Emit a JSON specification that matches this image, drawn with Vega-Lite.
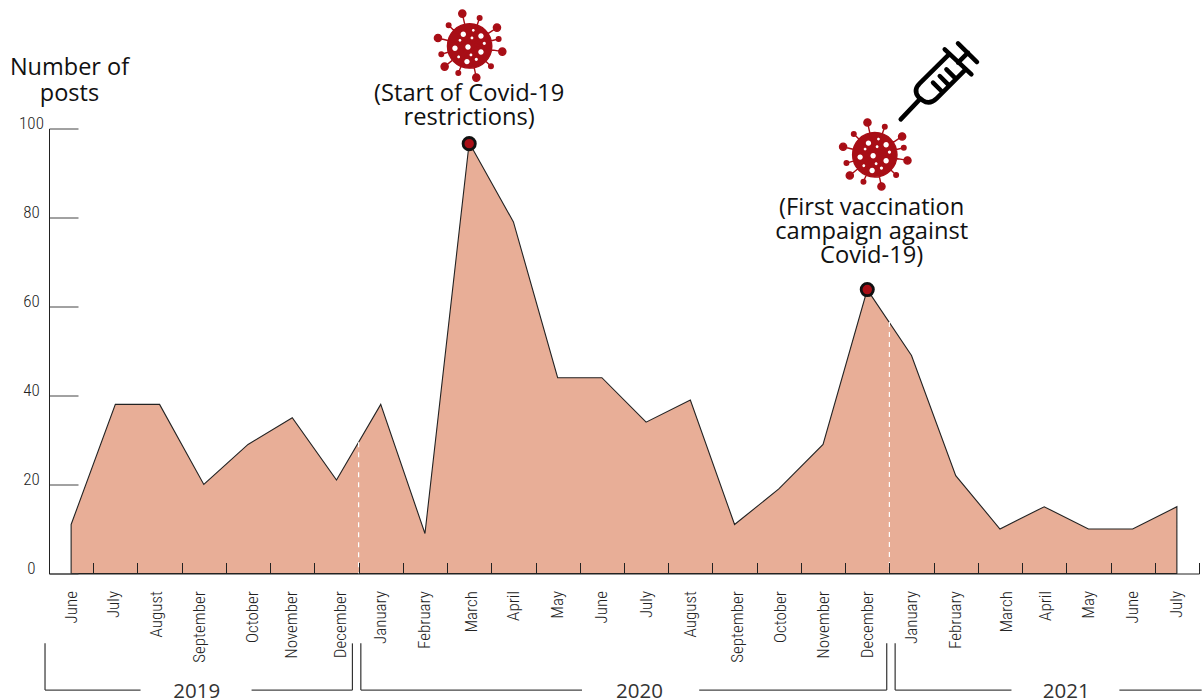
{
"$schema":"https://vega.github.io/schema/vega-lite/v6.json",
"width":1150,"height":445,
"autosize":{"type":"none"},
"padding":{"left":49,"top":128.5,"right":3,"bottom":126.5},
"background":"white",
"config":{"view":{"stroke":null}},
"datasets":{
"posts":[
{"month":"2019-06","name":"June","posts":11},{"month":"2019-07","name":"July","posts":38},{"month":"2019-08","name":"August","posts":38},{"month":"2019-09","name":"September","posts":20},{"month":"2019-10","name":"October","posts":29},{"month":"2019-11","name":"November","posts":35},{"month":"2019-12","name":"December","posts":21},
{"month":"2020-01","name":"January","posts":38},{"month":"2020-02","name":"February","posts":9},{"month":"2020-03","name":"March","posts":96.8},{"month":"2020-04","name":"April","posts":79},{"month":"2020-05","name":"May","posts":44},{"month":"2020-06","name":"June","posts":44},{"month":"2020-07","name":"July","posts":34},{"month":"2020-08","name":"August","posts":39},{"month":"2020-09","name":"September","posts":11},{"month":"2020-10","name":"October","posts":19},{"month":"2020-11","name":"November","posts":29},{"month":"2020-12","name":"December","posts":63.8},
{"month":"2021-01","name":"January","posts":49},{"month":"2021-02","name":"February","posts":22},{"month":"2021-03","name":"March","posts":10},{"month":"2021-04","name":"April","posts":15},{"month":"2021-05","name":"May","posts":10},{"month":"2021-06","name":"June","posts":10},{"month":"2021-07","name":"July","posts":15}
],
"peaks":[{"month":"2020-03","posts":96.6},{"month":"2020-12","posts":63.8}],
"notes":[{"i":9,"v":107.8,"text":"(Start of Covid-19\nrestrictions)"},{"i":18.1,"v":82.05,"text":"(First vaccination\ncampaign against\nCovid-19)"}],
"viruses":[{"i":9.01,"v":118.55},{"i":18.17,"v":94.1}],
"syringe":[{"i":19.57,"v":110.6}],
"years":[{"i":2.84,"v":-26.65,"year":"2019"},{"i":12.85,"v":-26.65,"year":"2020"},{"i":22.5,"v":-26.65,"year":"2021"}],
"dividers":[{"i":6.5,"top":29.5},{"i":18.5,"top":56.5}],
"bracketH":[{"a":-0.59,"b":1.57},{"a":4.08,"b":6.36},{"a":6.55,"b":11.55},{"a":14.2,"b":18.44},{"a":18.63,"b":21.26},{"a":23.7,"b":25.56}],
"bracketV":[{"i":-0.59},{"i":6.36},{"i":6.55},{"i":18.44},{"i":18.63}]
},
"layer":[
{
"layer":[
{"data":{"name":"posts"},
"mark":{"type":"area","fill":"#E8AE97","stroke":"#222222","strokeWidth":1.1,"opacity":1},
"encoding":{
"x":{"field":"month","type":"nominal","sort":null,"scale":{"type":"band","paddingInner":0,"paddingOuter":0},
"axis":{"title":null,"zindex":1,"tickBand":"extent","tickSize":-11,"tickColor":"#222222","domainColor":"#222222","grid":false,
"labelExpr":"split('June July August September October November December January February March April May June July August September October November December January February March April May June July',' ')[indexof(['2019-06','2019-07','2019-08','2019-09','2019-10','2019-11','2019-12','2020-01','2020-02','2020-03','2020-04','2020-05','2020-06','2020-07','2020-08','2020-09','2020-10','2020-11','2020-12','2021-01','2021-02','2021-03','2021-04','2021-05','2021-06','2021-07'],datum.value)]",
"labelAngle":-90,"labelAlign":"right","labelBaseline":"middle","labelPadding":28,"labelFont":"Roboto Condensed","labelFontSize":17,"labelFontWeight":300,"labelColor":"#222222","labelOverlap":false,"labelBound":false,
"labelOffset":{"condition":[{"test":"datum.value=='2019-07'","value":-2},{"test":"datum.value=='2019-08'","value":-3},{"test":"datum.value=='2019-09'","value":-4},{"test":"datum.value=='2019-10'","value":4},{"test":"datum.value=='2019-11'","value":-1},{"test":"datum.value=='2019-12'","value":4},{"test":"datum.value=='2020-03'","value":2},{"test":"datum.value=='2020-09'","value":3},{"test":"datum.value=='2020-10'","value":2},{"test":"datum.value=='2021-03'","value":7},{"test":"datum.value=='2021-04'","value":1}],"value":0}}},
"y":{"field":"posts","type":"quantitative","scale":{"domain":[0,100],"nice":false},
"axis":{"zindex":1,"title":["Number of","posts"],"titleAngle":0,"titleX":20,"titleY":-61,"titleAlign":"center","titleBaseline":"middle","titleFont":"Open Sans","titleFontSize":23.5,"titleFontWeight":"normal","titleColor":"#111111","titleLineHeight":26,
"values":[0,20,40,60,80,100],"tickSize":-29,"tickColor":"#444444","domainColor":"#222222","grid":false,"labelFont":"Roboto Condensed","labelFontSize":17,"labelFontWeight":300,"labelColor":"#222222","labelAlign":"center","labelBaseline":"middle","labelPadding":47,"labelOffset":-5,"labelBound":false}}
}},
{"data":{"name":"peaks"},
"mark":{"type":"point","shape":"circle","filled":true,"fill":"#A80E16","stroke":"#111111","strokeWidth":2.8,"size":150,"opacity":1},
"encoding":{"x":{"field":"month","type":"nominal","sort":null},"y":{"field":"posts","type":"quantitative"}}}
]
},
{
"encoding":{"x":{"type":"quantitative","scale":{"domain":[-0.5,25.5],"nice":false,"zero":false},"axis":null},"y":{"type":"quantitative","axis":null}},
"layer":[
{"data":{"name":"dividers"},"mark":{"type":"rule","stroke":"white","strokeWidth":1.2,"strokeDash":[5,5]},"encoding":{"x":{"field":"i","type":"quantitative"},"y":{"field":"top","type":"quantitative"},"y2":{"datum":0}}},
{"data":{"name":"bracketH"},"mark":{"type":"rule","stroke":"#444444","strokeWidth":1.2},"encoding":{"x":{"field":"a","type":"quantitative"},"x2":{"field":"b"},"y":{"datum":-26.2}}},
{"data":{"name":"bracketV"},"mark":{"type":"rule","stroke":"#333333","strokeWidth":1.2},"encoding":{"x":{"field":"i","type":"quantitative"},"y":{"datum":-15.7},"y2":{"datum":-26.2}}},
{"data":{"name":"years"},"mark":{"type":"text","font":"Open Sans","fontSize":20.5,"fill":"#333333","baseline":"middle","align":"center"},"encoding":{"x":{"field":"i","type":"quantitative"},"y":{"field":"v","type":"quantitative"},"text":{"field":"year"}}},
{"data":{"name":"notes"},"mark":{"type":"text","font":"Open Sans","fontSize":23.7,"fill":"#111111","align":"center","baseline":"middle","lineBreak":"\n","lineHeight":24},"encoding":{"x":{"field":"i","type":"quantitative"},"y":{"field":"v","type":"quantitative"},"text":{"field":"text"}}},
{"data":{"name":"viruses"},"mark":{"type":"point","filled":true,"fill":"#A80E16","stroke":"#A80E16","strokeWidth":1.4,"opacity":1,"size":4,
"shape":"M0 0L-7.33 -32.33M0 0L27.33 -18.33M0 0L32.67 5.67M0 0L6.67 31.67M0 0L-25 20.67M0 0L-31.67 -8M0 0L10 -28M0 0L29 -7M0 0L21.33 20.33M0 0L-11.33 27M0 0L-28.33 8.33M0 0L-21 -20.67M-22.2 0a22.2 22.2 0 1 0 44.4 0a22.2 22.2 0 1 0-44.4 0ZM-10.93 -32.33a3.6 3.6 0 1 0 7.2 0a3.6 3.6 0 1 0-7.2 0ZM23.73 -18.33a3.6 3.6 0 1 0 7.2 0a3.6 3.6 0 1 0-7.2 0ZM29.07 5.67a3.6 3.6 0 1 0 7.2 0a3.6 3.6 0 1 0-7.2 0ZM3.07 31.67a3.6 3.6 0 1 0 7.2 0a3.6 3.6 0 1 0-7.2 0ZM-28.6 20.67a3.6 3.6 0 1 0 7.2 0a3.6 3.6 0 1 0-7.2 0ZM-35.27 -8a3.6 3.6 0 1 0 7.2 0a3.6 3.6 0 1 0-7.2 0ZM7.7 -28a2.3 2.3 0 1 0 4.6 0a2.3 2.3 0 1 0-4.6 0ZM26.7 -7a2.3 2.3 0 1 0 4.6 0a2.3 2.3 0 1 0-4.6 0ZM19.03 20.33a2.3 2.3 0 1 0 4.6 0a2.3 2.3 0 1 0-4.6 0ZM-13.63 27a2.3 2.3 0 1 0 4.6 0a2.3 2.3 0 1 0-4.6 0ZM-30.63 8.33a2.3 2.3 0 1 0 4.6 0a2.3 2.3 0 1 0-4.6 0ZM-23.3 -20.67a2.3 2.3 0 1 0 4.6 0a2.3 2.3 0 1 0-4.6 0Z"},
"encoding":{"x":{"field":"i","type":"quantitative"},"y":{"field":"v","type":"quantitative"}}},
{"data":{"name":"viruses"},"mark":{"type":"point","filled":true,"fill":"white","strokeWidth":0,"opacity":1,"size":4,
"shape":"M-9.03 -11.67a2.7 2.7 0 1 0 5.4 0a2.7 2.7 0 1 0-5.4 0ZM8.63 -10a2.7 2.7 0 1 0 5.4 0a2.7 2.7 0 1 0-5.4 0ZM-17.37 2.33a2.7 2.7 0 1 0 5.4 0a2.7 2.7 0 1 0-5.4 0ZM-4.37 1a2.7 2.7 0 1 0 5.4 0a2.7 2.7 0 1 0-5.4 0ZM8.63 6a2.7 2.7 0 1 0 5.4 0a2.7 2.7 0 1 0-5.4 0ZM-5.37 15.67a2.7 2.7 0 1 0 5.4 0a2.7 2.7 0 1 0-5.4 0ZM2.27 -15.67a1.4 1.4 0 1 0 2.8 0a1.4 1.4 0 1 0-2.8 0ZM-11.07 -5.67a1.4 1.4 0 1 0 2.8 0a1.4 1.4 0 1 0-2.8 0ZM.93 -8a1.4 1.4 0 1 0 2.8 0a1.4 1.4 0 1 0-2.8 0ZM-.07 9a1.4 1.4 0 1 0 2.8 0a1.4 1.4 0 1 0-2.8 0ZM-12.4 11a1.4 1.4 0 1 0 2.8 0a1.4 1.4 0 1 0-2.8 0ZM13.07 -2.67a1.6 1.6 0 1 0 3.2 0a1.6 1.6 0 1 0-3.2 0ZM5.07 13.33a1.6 1.6 0 1 0 3.2 0a1.6 1.6 0 1 0-3.2 0Z"},
"encoding":{"x":{"field":"i","type":"quantitative"},"y":{"field":"v","type":"quantitative"}}},
{"data":{"name":"syringe"},"mark":{"type":"point","filled":false,"fill":null,"stroke":"black","strokeWidth":4.5,"strokeCap":"round","strokeJoin":"round","opacity":1,"size":4,
"shape":"M-36 38L-17 18M8 -32L34.7 -7M21.3 -18.7L31.3 -28.7M21.3 -38L40.3 -19.3M12.3 -27L-17 2Q-24 9 -18 16L-14 19Q-7 24 0 17L29 -12M9.7 -12L18 -3.7M3 -5.3L11.3 3M-3.7 1.3L4.7 9.7"},
"encoding":{"x":{"field":"i","type":"quantitative"},"y":{"field":"v","type":"quantitative"}}}
]
}
],
"resolve":{"scale":{"x":"independent","y":"shared"},"axis":{"x":"independent","y":"independent"}}
}
